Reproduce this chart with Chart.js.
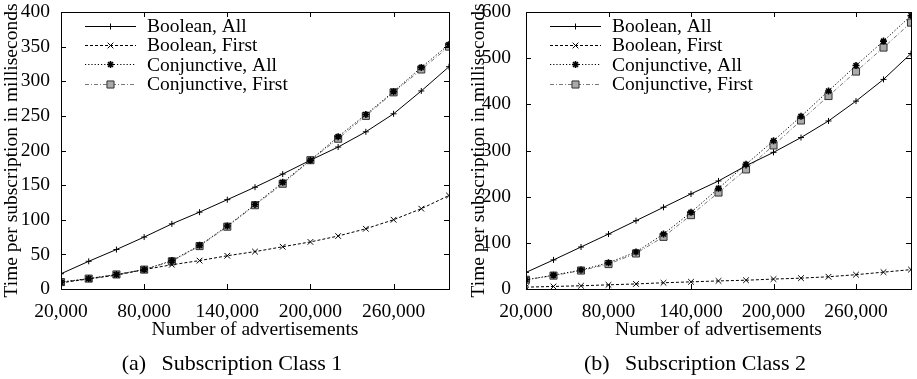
<!DOCTYPE html>
<html><head><meta charset="utf-8">
<script src="https://cdn.jsdelivr.net/npm/chart.js@4"></script>
<style>
html,body{margin:0;padding:0;background:#fff;width:917px;height:379px;overflow:hidden}
.wrap{position:absolute;top:0;height:379px}
#probe{position:absolute;left:-9999px;top:0;font-family:"Liberation Serif";font-size:19px}
</style></head><body>
<span id="probe">Boolean 0123</span>
<div class="wrap" style="left:0;width:458px"><canvas id="c1" width="458" height="379"></canvas></div>
<div class="wrap" style="left:458px;width:459px"><canvas id="c2" width="459" height="379"></canvas></div>
<script>
// ---- data ----
const advertisements = [20000, 40000, 60000, 80000, 100000, 120000, 140000, 160000, 180000, 200000, 220000, 240000, 260000, 280000, 300000];
const xTickValues = [20000, 80000, 140000, 200000, 260000];
const yTicksClass1 = [0, 50, 100, 150, 200, 250, 300, 350, 400];
const yTicksClass2 = [0, 100, 200, 300, 400, 500, 600];
const seriesNames = ['Boolean, All', 'Boolean, First', 'Conjunctive, All', 'Conjunctive, First'];

const booleanAll1      = [22, 40, 57, 75, 94, 111, 129, 147, 166, 186, 205, 227, 253, 286, 321];
const booleanFirst1    = [9, 14.5, 20, 28, 35, 41, 48, 54, 61, 68, 76.5, 87, 100, 116, 135];
const conjunctiveAll1  = [10, 15, 21, 28, 41, 63, 91, 122, 154, 186, 220, 252, 285, 320, 353];
const conjunctiveFirst1= [10, 15, 21, 28, 40, 62, 90, 121, 152, 186, 217, 250, 284, 317, 350];

const booleanAll2      = [36, 63, 91, 119, 148, 177, 206, 234, 267, 296, 328, 364, 407, 454, 510];
const booleanFirst2    = [4, 5.5, 7, 9, 11, 13.5, 15.5, 17.5, 19, 21.5, 23.5, 26.5, 31, 36.5, 42];
const conjunctiveAll2  = [20, 30, 41, 57, 80, 119, 166, 218, 270, 321, 374, 429, 484, 537, 592];
const conjunctiveFirst2= [20, 29, 40, 54, 77, 113, 160, 209, 259, 311, 365, 418, 471, 523, 577];

const captions = ['(a)\u2002\u2009Subscription Class 1', '(b)\u2002\u2009Subscription Class 2'];
const yTitle = 'Time per subscription in milliseconds';
const xTitle = 'Number of advertisements';

// ---- styles ----
const FONT = '"Liberation Serif", Times, serif';
const FS = 19.5;
const styles = [
  {borderColor:'#000', borderDash:[], pointStyle:'cross', pointRadius:3, pointBorderColor:'#000', pointBackgroundColor:'#000', pointBorderWidth:1},
  {borderColor:'#000', borderDash:[3,2], pointStyle:'crossRot', pointRadius:4, pointBorderColor:'#000', pointBackgroundColor:'#000', pointBorderWidth:1},
  {borderColor:'#000', borderDash:[1.2,2], pointStyle:'star', pointRadius:3.5, pointBorderColor:'#000', pointBackgroundColor:'#000', pointBorderWidth:1.6},
  {borderColor:'#777', borderDash:[4,2,1,2], pointStyle:'rect', pointRadius:5, pointBorderColor:'#333', pointBackgroundColor:'#aaa', pointBorderWidth:1}
];

function drawMarker(ctx, st, x, y) {
  const r = st.pointRadius;
  ctx.save();
  ctx.strokeStyle = st.pointBorderColor; ctx.fillStyle = st.pointBackgroundColor;
  ctx.lineWidth = st.pointBorderWidth; ctx.setLineDash([]);
  ctx.beginPath();
  const d = r * Math.SQRT1_2;
  if (st.pointStyle === 'cross' || st.pointStyle === 'star') {
    ctx.moveTo(x, y - r); ctx.lineTo(x, y + r); ctx.moveTo(x - r, y); ctx.lineTo(x + r, y);
  }
  if (st.pointStyle === 'crossRot' || st.pointStyle === 'star') {
    ctx.moveTo(x - d, y - d); ctx.lineTo(x + d, y + d); ctx.moveTo(x - d, y + d); ctx.lineTo(x + d, y - d);
  }
  if (st.pointStyle === 'rect') {
    ctx.rect(x - d, y - d, 2 * d, 2 * d); ctx.fill();
  }
  ctx.stroke();
  ctx.restore();
}

const framePlugin = {
  id: 'frame',
  afterDatasetsDraw(chart) {
    const {ctx, chartArea: a, scales} = chart;
    ctx.save();
    ctx.strokeStyle = '#000'; ctx.lineWidth = 1; ctx.setLineDash([]);
    ctx.strokeRect(Math.round(a.left) + 0.5, Math.round(a.top) + 0.5, Math.round(a.right - a.left), Math.round(a.bottom - a.top));
    const L = 5;
    ctx.beginPath();
    scales.x.ticks.forEach(t => {
      const px = Math.round(scales.x.getPixelForValue(t.value)) + 0.5;
      ctx.moveTo(px, a.bottom); ctx.lineTo(px, a.bottom - L);
      ctx.moveTo(px, a.top); ctx.lineTo(px, a.top + L);
    });
    scales.y.ticks.forEach(t => {
      const py = Math.round(scales.y.getPixelForValue(t.value)) + 0.5;
      ctx.moveTo(a.left, py); ctx.lineTo(a.left + L, py);
      ctx.moveTo(a.right, py); ctx.lineTo(a.right - L, py);
    });
    ctx.stroke();
    ctx.restore();
  }
};

const keyPlugin = {
  id: 'key',
  afterDraw(chart) {
    const {ctx, chartArea: a} = chart;
    ctx.save();
    ctx.font = FS + 'px ' + FONT; ctx.fillStyle = '#000'; ctx.textBaseline = 'middle'; ctx.textAlign = 'left';
    chart.data.datasets.forEach((ds, i) => {
      const y = a.top + 14 + i * 19.2;
      const x0 = a.left + 24;
      ctx.save();
      ctx.strokeStyle = ds.borderColor; ctx.lineWidth = 1; ctx.setLineDash(ds.borderDash || []);
      ctx.beginPath(); ctx.moveTo(x0, Math.round(y) + 0.5); ctx.lineTo(x0 + 51, Math.round(y) + 0.5); ctx.stroke();
      ctx.restore();
      drawMarker(ctx, styles[i], x0 + 25.5, Math.round(y) + 0.5);
      ctx.fillText(ds.label, x0 + 62, y + 1);
    });
    ctx.restore();
  }
};

const captionPlugin = {
  id: 'caption',
  afterDraw(chart, args, opts) {
    const ctx = chart.ctx;
    ctx.save();
    ctx.font = '22px ' + FONT; ctx.fillStyle = '#000'; ctx.textAlign = 'center'; ctx.textBaseline = 'middle';
    ctx.fillText(opts.text, opts.x, opts.y);
    ctx.restore();
  }
};

function makeChart(id, seriesList, yTicks, yAxisWidth, rightPad, yTitlePad, yTickPad, captionText, captionX) {
  const datasets = seriesList.map((arr, i) => Object.assign({
    label: seriesNames[i],
    data: advertisements.map((x, k) => ({x: x, y: arr[k]})),
    borderWidth: 1, fill: false, tension: 0
  }, styles[i]));
  const tickFont = {family: FONT, size: FS};
  return new Chart(document.getElementById(id), {
    type: 'line',
    data: {datasets},
    options: {
      responsive: false, animation: false, devicePixelRatio: 1,
      layout: {padding: {top: 12, right: rightPad, bottom: 29, left: 0}},
      plugins: {
        legend: {display: false}, tooltip: {enabled: false},
        caption: {text: captionText, x: captionX, y: 364}
      },
      scales: {
        x: {
          type: 'linear', min: advertisements[0], max: advertisements[advertisements.length - 1],
          afterBuildTicks: s => { s.ticks = xTickValues.map(v => ({value: v})); },
          afterFit: s => { s.height = 61; s.paddingLeft = 0; s.paddingRight = 0; },
          grid: {display: false, drawTicks: false, tickLength: 0},
          border: {display: false},
          ticks: {font: tickFont, color: '#000', padding: 11, maxRotation: 0, autoSkip: false,
                  callback: v => v.toLocaleString('en-US')},
          title: {display: true, text: xTitle, font: tickFont, color: '#000', padding: {top: 0, bottom: 8}}
        },
        y: {
          type: 'linear', min: yTicks[0], max: yTicks[yTicks.length - 1],
          afterBuildTicks: s => { s.ticks = yTicks.map(v => ({value: v})); },
          afterFit: s => { s.width = yAxisWidth; s.paddingTop = 0; s.paddingBottom = 0; },
          grid: {display: false, drawTicks: false, tickLength: 0},
          border: {display: false},
          ticks: {font: tickFont, color: '#000', padding: yTickPad},
          title: {display: true, text: yTitle, font: tickFont, color: '#000', padding: {top: yTitlePad, bottom: 0}}
        }
      }
    },
    plugins: [framePlugin, keyPlugin, captionPlugin]
  });
}

function build() {
  makeChart('c1', [booleanAll1, booleanFirst1, conjunctiveAll1, conjunctiveFirst1], yTicksClass1, 61, 9, 0, 11, captions[0], 232);
  makeChart('c2', [booleanAll2, booleanFirst2, conjunctiveAll2, conjunctiveFirst2], yTicksClass2, 68, 4, 9, 15, captions[1], 237);
}
if (document.fonts && document.fonts.load) {
  Promise.all([document.fonts.load('19px "Liberation Serif"'), document.fonts.load('22px "Liberation Serif"')])
    .then(build, build);
} else { build(); }
</script>
</body></html>
